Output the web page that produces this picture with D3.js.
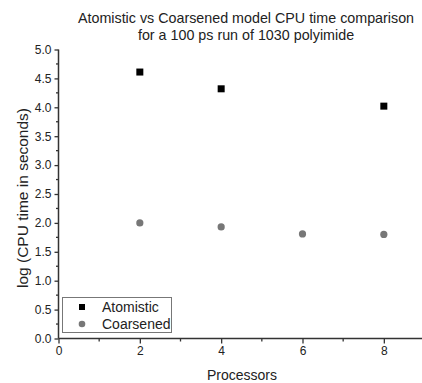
<!DOCTYPE html>
<html><head><meta charset="utf-8">
<script src="https://cdn.jsdelivr.net/npm/d3@7"></script>
<style>
body{margin:0;background:#fff;}
text{font-family:Arial,"Liberation Sans",sans-serif;}
</style></head>
<body><svg id="c" width="422" height="383"></svg>
<script>
const titleLines = ["Atomistic vs Coarsened model CPU time comparison", "for a 100 ps run of 1030 polyimide"];
const xLabel = "Processors";
const yLabel = "log (CPU time in seconds)";
const atomisticX = [2, 4, 8];
const atomisticY = [4.61, 4.32, 4.02];
const coarsenedX = [2, 4, 6, 8];
const coarsenedY = [2.00, 1.93, 1.81, 1.80];
const xTicks = [0, 2, 4, 6, 8];
const yTicks = [0, 0.5, 1, 1.5, 2, 2.5, 3, 3.5, 4, 4.5, 5];
const seriesNames = ["Atomistic", "Coarsened"];

const svg = d3.select("#c");
const x = d3.scaleLinear().domain([0, 9]).range([58.5, 424.5]);
const y = d3.scaleLinear().domain([0, 5]).range([338.5, 49.5]);
const ink = "#333";

// title
svg.append("g").selectAll("text").data(titleLines).join("text")
  .attr("x", 246).attr("y", (d,i)=>23 + i*17)
  .attr("text-anchor","middle").attr("font-size",14.3).attr("fill","#222").text(d=>d);

// x axis
const xMinor = d3.range(1, 9, 2);
const gx = svg.append("g").attr("transform","translate(0,338.5)");
gx.call(d3.axisBottom(x).tickValues(xTicks).tickFormat(d3.format("d")).tickSize(5).tickPadding(3));
gx.append("g").selectAll("line").data(xMinor).join("line")
  .attr("x1",d=>x(d)).attr("x2",d=>x(d)).attr("y1",0).attr("y2",3).attr("stroke",ink).attr("stroke-width",1.3);
// y axis
const yMinor = d3.range(0.25, 5, 0.5);
const gy = svg.append("g").attr("transform","translate(58.5,0)");
gy.call(d3.axisLeft(y).tickValues(yTicks).tickFormat(d3.format(".1f")).tickSize(4).tickPadding(3));
gy.append("g").selectAll("line").data(yMinor).join("line")
  .attr("y1",d=>y(d)).attr("y2",d=>y(d)).attr("x1",0).attr("x2",-2.5).attr("stroke",ink).attr("stroke-width",1.3);
[gx, gy].forEach(g=>{
  g.select(".domain").attr("stroke",ink).attr("stroke-width",1.5);
  g.selectAll(".tick line").attr("stroke",ink).attr("stroke-width",1.3);
  g.selectAll(".tick text").attr("font-size",12).attr("fill","#222").attr("font-family","Arial, Liberation Sans, sans-serif");
});
gx.select(".domain").attr("d", `M${x(0)},0H${x(9)}`);
gy.select(".domain").attr("d", `M0,${y(5)}V${y(0)}`);

// axis labels
svg.append("text").attr("x",242).attr("y",380).attr("text-anchor","middle")
  .attr("font-size",14).attr("fill","#222").text(xLabel);
svg.append("text").attr("transform","translate(23,198) rotate(-90)").attr("text-anchor","middle")
  .attr("dy","0.35em").attr("font-size",15.5).attr("fill","#222").text(yLabel);

// points
const sq = 7;
svg.append("g").selectAll("rect").data(atomisticX.map((v,i)=>[v, atomisticY[i]])).join("rect")
  .attr("x",d=>x(d[0])-sq/2).attr("y",d=>y(d[1])-sq/2).attr("width",sq).attr("height",sq).attr("fill","#000");
svg.append("g").selectAll("circle").data(coarsenedX.map((v,i)=>[v, coarsenedY[i]])).join("circle")
  .attr("cx",d=>x(d[0])).attr("cy",d=>y(d[1])).attr("r",3.6).attr("fill","#777");

// legend
const lg = svg.append("g");
lg.append("rect").attr("x",62.5).attr("y",297.5).attr("width",109).attr("height",35)
  .attr("fill","#fff").attr("stroke","#777").attr("stroke-width",1);
const ly = [307, 324];
lg.append("rect").attr("x",82-3).attr("y",ly[0]-3).attr("width",6).attr("height",6).attr("fill","#000");
lg.append("circle").attr("cx",82).attr("cy",ly[1]).attr("r",3.3).attr("fill","#777");
lg.selectAll("text").data(seriesNames).join("text")
  .attr("x",102).attr("y",(d,i)=>ly[i]+5).attr("font-size",14).attr("fill","#222").text(d=>d);
</script></body></html>
